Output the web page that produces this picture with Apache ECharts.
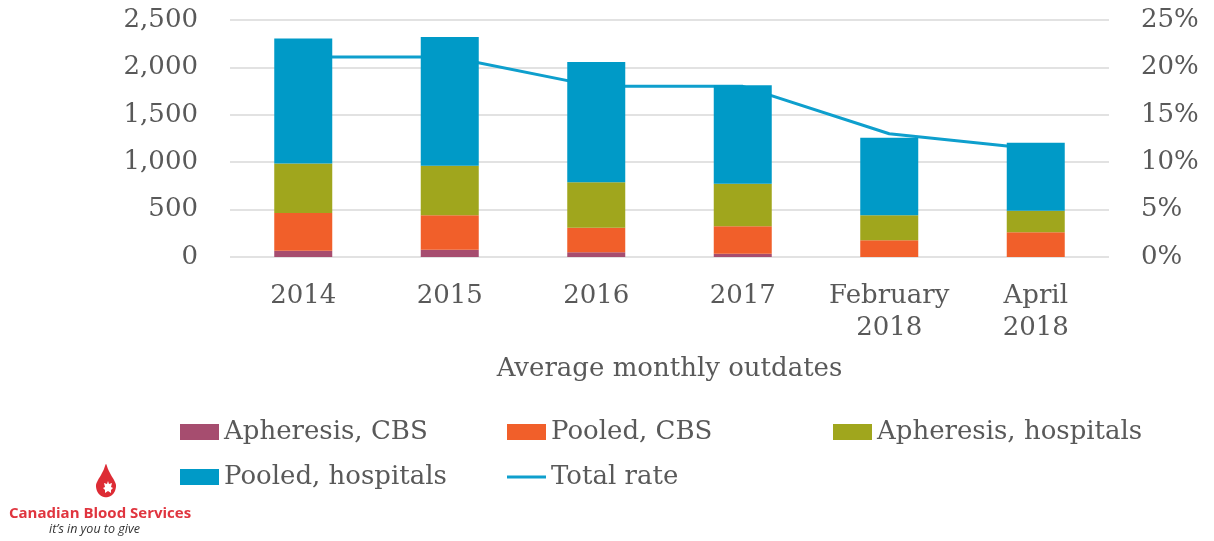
<!DOCTYPE html>
<html>
<head>
<meta charset="utf-8">
<script src="https://cdn.jsdelivr.net/npm/echarts@6/dist/echarts.min.js"></script>
<style>
  html, body { margin: 0; padding: 0; background: #fff; }
  #chart { width: 1214px; height: 541px; }
</style>
</head>
<body>
<div id="chart"></div>
<script>
const categories = ['2014', '2015', '2016', '2017', 'February\n2018', 'April\n2018']
const apheresisCBS = [65, 77, 50, 35, 0, 0]
const pooledCBS = [400, 363, 258, 290, 176, 260]
const apheresisHospitals = [520, 523, 480, 447, 264, 229]
const pooledHospitals = [1320, 1357, 1270, 1040, 819, 717]
const totalRate = [21.1, 21.1, 18, 18, 13, 11.4]

const FONT = 'DejaVu Serif'
const TEXT = '#595959'
const SIZE = 26

const chart = echarts.init(document.getElementById('chart'))

function barSeries(name, data, color) {
  return {
    name: name,
    type: 'bar',
    stack: 'outdates',
    barWidth: 58,
    z: 3,
    data: data,
    itemStyle: { color: color }
  }
}

const legendBase = {
  icon: 'rect',
  itemWidth: 39,
  itemHeight: 16,
  itemGap: 4,
  padding: 0,
  textStyle: { fontFamily: FONT, fontSize: SIZE, color: TEXT },
  selectedMode: false
}

// logo outlines (decoration only)
const dropShape = [[10, 0], [12, 5], [15, 11], [18, 16], [20, 21], [19, 27], [16, 31], [12, 33], [8, 33], [4, 31], [1, 27], [0, 21], [2, 16], [5, 11], [8, 5]]
const leafShape = [[5, 0], [6, 3], [9, 2], [8, 6], [10, 7], [8, 9], [8, 12], [5, 10], [2, 12], [2, 9], [0, 7], [2, 6], [1, 2], [4, 3]]

chart.setOption({
  animation: false,
  textStyle: { fontFamily: FONT },
  grid: { left: 230, right: 105, top: 20, bottom: 284, outerBoundsMode: 'none' },
  legend: [
    Object.assign({ data: ['Apheresis, CBS'], left: 180, top: 419 }, legendBase),
    Object.assign({ data: ['Pooled, CBS'], left: 507, top: 419 }, legendBase),
    Object.assign({ data: ['Apheresis, hospitals'], left: 833, top: 419 }, legendBase),
    Object.assign({ data: ['Pooled, hospitals'], left: 180, top: 464 }, legendBase),
    Object.assign({}, legendBase, {
      data: ['Total rate'],
      left: 507,
      top: 464,
      itemHeight: 3
    })
  ],
  xAxis: {
    type: 'category',
    data: categories,
    name: 'Average monthly outdates',
    nameLocation: 'middle',
    nameGap: 99,
    nameTextStyle: { fontFamily: FONT, fontSize: SIZE, color: TEXT },
    axisLine: { show: false },
    axisTick: { show: false },
    axisLabel: { interval: 0, fontFamily: FONT, fontSize: SIZE, color: TEXT, margin: 23, lineHeight: 32 }
  },
  yAxis: [
    {
      type: 'value',
      min: 0,
      max: 2500,
      interval: 500,
      axisLine: { show: false },
      axisTick: { show: false },
      splitLine: { lineStyle: { color: '#d9d9d9', width: 1.5 } },
      axisLabel: {
        fontFamily: FONT, fontSize: SIZE, color: TEXT, margin: 32,
        formatter: v => v.toLocaleString('en-US')
      }
    },
    {
      type: 'value',
      min: 0,
      max: 25,
      interval: 5,
      axisLine: { show: false },
      axisTick: { show: false },
      splitLine: { show: false },
      axisLabel: { fontFamily: FONT, fontSize: SIZE, color: TEXT, margin: 32, formatter: '{value}%' }
    }
  ],
  series: [
    barSeries('Apheresis, CBS', apheresisCBS, '#A64D6F'),
    barSeries('Pooled, CBS', pooledCBS, '#F15F2A'),
    barSeries('Apheresis, hospitals', apheresisHospitals, '#A0A61D'),
    barSeries('Pooled, hospitals', pooledHospitals, '#009AC7'),
    {
      name: 'Total rate',
      type: 'line',
      yAxisIndex: 1,
      symbol: 'none',
      z: 2,
      data: totalRate,
      lineStyle: { color: '#0E9FCD', width: 3 },
      itemStyle: { color: '#0E9FCD' }
    }
  ],
  graphic: [
    {
      type: 'polygon',
      x: 96,
      y: 464,
      shape: { points: dropShape, smooth: 0.3 },
      style: { fill: '#dd2c35' }
    },
    {
      type: 'polygon',
      x: 103,
      y: 481,
      shape: { points: leafShape },
      style: { fill: '#fff' }
    },
    {
      type: 'text',
      x: 9,
      y: 506,
      style: { text: 'Canadian Blood Services', font: 'bold 15px "Open Sans"', fill: '#e0353f' }
    },
    {
      type: 'text',
      x: 49,
      y: 523,
      style: { text: 'it\u2019s in you to give', font: 'italic 12.5px "Open Sans"', fill: '#333' }
    }
  ]
})
</script>
</body>
</html>
